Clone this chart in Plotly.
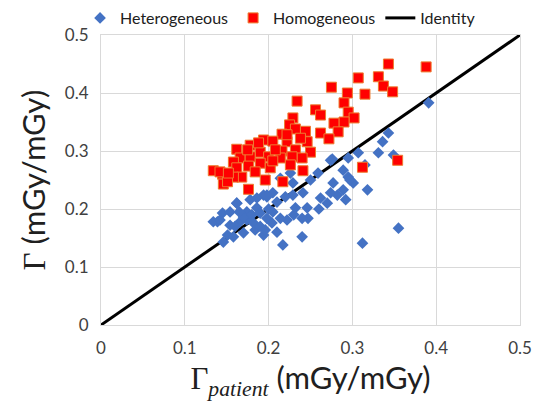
import plotly.graph_objects as go

# Heterogeneous (blue diamonds)
het_x = [0.391, 0.343, 0.336, 0.331, 0.349, 0.307, 0.295, 0.276, 0.315, 0.259,
         0.289, 0.295, 0.301, 0.277, 0.289, 0.274, 0.292, 0.262, 0.282, 0.246,
         0.247, 0.240, 0.222, 0.214, 0.205, 0.232, 0.226, 0.214, 0.229, 0.241,
         0.229, 0.220, 0.205, 0.194, 0.210, 0.198, 0.186, 0.174, 0.162, 0.178,
         0.174, 0.166, 0.154, 0.139, 0.145, 0.154, 0.134, 0.151, 0.146, 0.158,
         0.170, 0.184, 0.194, 0.210, 0.240, 0.217, 0.312, 0.355, 0.196, 0.204,
         0.182, 0.190, 0.198, 0.170, 0.250, 0.274, 0.318, 0.297, 0.160, 0.180,
         0.190, 0.165, 0.200, 0.230, 0.260, 0.270, 0.142, 0.162, 0.186, 0.198]
het_y = [0.383, 0.331, 0.316, 0.297, 0.293, 0.297, 0.288, 0.286, 0.276, 0.262,
         0.267, 0.255, 0.245, 0.245, 0.233, 0.228, 0.216, 0.219, 0.224, 0.202,
         0.184, 0.184, 0.181, 0.184, 0.195, 0.202, 0.262, 0.253, 0.245, 0.228,
         0.224, 0.221, 0.228, 0.224, 0.212, 0.184, 0.202, 0.195, 0.210, 0.216,
         0.181, 0.178, 0.172, 0.178, 0.193, 0.195, 0.178, 0.155, 0.143, 0.152,
         0.159, 0.164, 0.155, 0.160, 0.152, 0.138, 0.141, 0.167, 0.164, 0.176,
         0.176, 0.193, 0.221, 0.186, 0.250, 0.284, 0.233, 0.250, 0.170, 0.190,
         0.170, 0.195, 0.200, 0.190, 0.200, 0.210, 0.181, 0.210, 0.219, 0.224]

# Homogeneous (red squares)
hom_x = [0.388, 0.343, 0.307, 0.331, 0.337, 0.348, 0.275, 0.294, 0.315, 0.234,
         0.290, 0.295, 0.256, 0.262, 0.302, 0.290, 0.278, 0.229, 0.283, 0.262,
         0.272, 0.225, 0.232, 0.216, 0.244, 0.246, 0.222, 0.194, 0.205, 0.250,
         0.232, 0.216, 0.240, 0.354, 0.312, 0.241, 0.178, 0.162, 0.190, 0.166,
         0.178, 0.200, 0.214, 0.228, 0.158, 0.190, 0.176, 0.134, 0.145, 0.162,
         0.168, 0.158, 0.146, 0.151, 0.196, 0.217, 0.176, 0.208, 0.226, 0.202,
         0.184, 0.222, 0.238, 0.142, 0.152, 0.175, 0.188, 0.205]
hom_y = [0.445, 0.450, 0.426, 0.428, 0.412, 0.402, 0.410, 0.400, 0.398, 0.386,
         0.383, 0.367, 0.371, 0.362, 0.357, 0.350, 0.348, 0.357, 0.333, 0.331,
         0.321, 0.345, 0.338, 0.329, 0.334, 0.316, 0.316, 0.319, 0.317, 0.298,
         0.302, 0.300, 0.288, 0.284, 0.272, 0.266, 0.310, 0.303, 0.298, 0.288,
         0.290, 0.290, 0.288, 0.290, 0.281, 0.279, 0.274, 0.266, 0.260, 0.271,
         0.255, 0.255, 0.243, 0.247, 0.250, 0.247, 0.234, 0.302, 0.276, 0.271,
         0.264, 0.328, 0.322, 0.264, 0.262, 0.302, 0.314, 0.283]

identity = [0, 0.5]
ticks = [0, 0.1, 0.2, 0.3, 0.4, 0.5]
tick_text = ["0", "0.1", "0.2", "0.3", "0.4", "0.5"]

FONT = "Lato, 'Open Sans', sans-serif"

fig = go.Figure()
fig.add_trace(go.Scatter(
    x=identity, y=identity, mode="lines", name="Identity",
    line=dict(color="black", width=3), legendrank=3))
fig.add_trace(go.Scatter(
    x=het_x, y=het_y, mode="markers", name="Heterogeneous",
    marker=dict(symbol="diamond", size=9, color="#4472C4",
                line=dict(width=0)), legendrank=1))
fig.add_trace(go.Scatter(
    x=hom_x, y=hom_y, mode="markers", name="Homogeneous",
    marker=dict(symbol="square", size=10, color="#FF0000",
                line=dict(color="#ED7D31", width=1)), legendrank=2))

axis_common = dict(
    range=[0, 0.5], tickvals=ticks, ticktext=tick_text,
    showgrid=True, gridcolor="#D9D9D9", gridwidth=1,
    zeroline=False, showline=True, linecolor="#D9D9D9", linewidth=1,
    mirror=True, ticks="", tickfont=dict(family=FONT, size=17, color="#404040"),
)

fig.update_layout(
    width=535, height=408,
    margin=dict(l=101, r=15, t=35, b=83, autoexpand=False),
    paper_bgcolor="white", plot_bgcolor="white",
    showlegend=True,
    legend=dict(orientation="h", x=-0.05, xanchor="left", y=1.0, yanchor="bottom",
                font=dict(family=FONT, size=16, color="#202020"),
                bgcolor="rgba(0,0,0,0)", traceorder="normal", itemwidth=30),
    xaxis=dict(**axis_common,
               title=dict(text="<span style='font-family:Liberation Serif'>Γ<sub><i>patient</i></sub></span> (mGy/mGy)",
                          font=dict(family=FONT, size=31, color="#202020"), standoff=6),
               ticklabelstandoff=8),
    yaxis=dict(**axis_common,
               title=dict(text="<span style='font-family:Liberation Serif'>Γ</span> (mGy/mGy)",
                          font=dict(family=FONT, size=31, color="#202020"), standoff=10),
               ticklabelstandoff=8),
)

fig.write_html("out.html")
